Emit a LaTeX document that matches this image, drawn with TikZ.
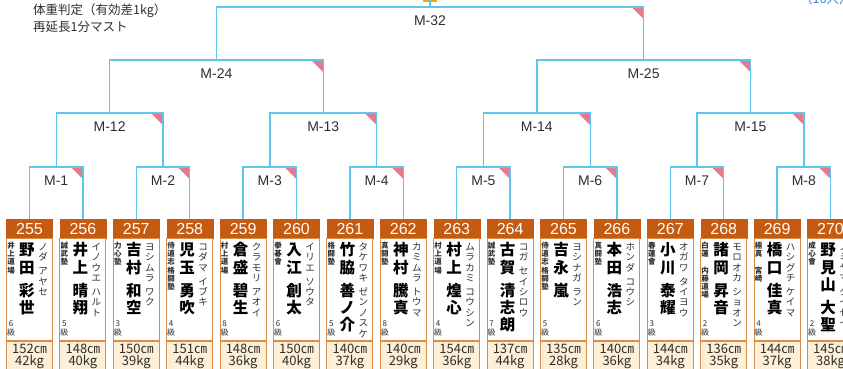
\documentclass[tikz,border=0pt]{standalone}
\usepackage{fontspec}
\setmainfont{Liberation Sans}
\newfontfamily\jp{Noto Sans CJK JP}
\usetikzlibrary{positioning}

\definecolor{bracketblue}{HTML}{5EC5EC}
\definecolor{cornerpink}{HTML}{E8788C}
\definecolor{hdrorange}{HTML}{C55A11}
\definecolor{cardedge}{HTML}{DA8C4C}
\definecolor{footcream}{HTML}{FDF0D6}
\definecolor{inkgray}{HTML}{2E2E2E}
\definecolor{noteblue}{HTML}{3D7DCA}
\definecolor{cupgold}{HTML}{F0A818}

% vertical text, one character per line
\makeatletter
\def\tate@go#1{\ifx#1\relax\else\hbox to 1em{\hss#1\hss\vrule height .94em depth .16em width 0pt}\expandafter\tate@go\fi}
\newcommand\tate[1]{\edef\tate@l{#1}\vbox{\offinterlineskip\expandafter\tate@go\tate@l\relax}}
\makeatother

\begin{document}
\begin{tikzpicture}[x=1pt,y=1pt,
    bline/.style={draw=bracketblue,line width=1.4pt},
    corner/.style={fill=cornerpink},
    mlabel/.style={font=\fontsize{14}{14}\selectfont,text=inkgray},
    note/.style={anchor=west,inner sep=0pt,font=\jp\fontsize{12.5}{12.5}\selectfont,text=inkgray},
    hdr/.style={fill=hdrorange,draw=hdrorange,text=white,minimum width=46pt,minimum height=19pt,inner sep=0pt,font=\fontsize{16}{16}\selectfont},
    body/.style={draw=cardedge,fill=white,line width=1pt,minimum width=46pt,minimum height=102pt,inner sep=0pt},
    foot/.style={draw=cardedge,fill=footcream,line width=1pt,minimum width=46pt,minimum height=30pt,inner sep=0pt,align=center,font=\jp\fontsize{13}{12}\selectfont,text=inkgray},
    sei/.style={inner sep=0pt,font=\jp\bfseries\fontsize{15.5}{15.5}\selectfont,text=black},
    yomi/.style={inner sep=0pt,font=\jp\fontsize{9.5}{9.5}\selectfont,text=inkgray},
    dojo/.style={anchor=north,inner sep=0pt,font=\jp\bfseries\fontsize{7.5}{7.5}\selectfont,text=inkgray},
    kyu/.style={anchor=south,inner sep=0pt,font=\jp\fontsize{8}{8}\selectfont,text=inkgray}]
\useasboundingbox (0,0) rectangle (843,-368);

% notes at the top
\node[note] (note1) at (33,-11) {体重判定（有効差1kg）};
\node[note] (note2) at (33,-27) {再延長1分マスト};
\node[note,text=noteblue] (count) at (800,1) {（16人）};
\fill[cupgold] (423,-2) rectangle (437,3);

% players
\foreach \n/\dojo/\sei/\mei/\ys/\ym/\kyu/\cm/\kg [count=\i from 0] in {
    255/井上道場/野田/彩世/ノダ/アヤセ/6/152/42,
    256/誠武塾/井上/晴翔/イノウエ/ハルト/5/148/40,
    257/力心塾/吉村/和空/ヨシムラ/ワク/3/150/39,
    258/侍道志格闘塾/児玉/勇吹/コダマ/イブキ/4/151/44,
    259/村上道場/倉盛/碧生/クラモリ/アオイ/8/148/36,
    260/拳碁會/入江/創太/イリエ/ソウタ/6/150/40,
    261/格闘塾/竹脇/善ノ介/タケワキ/ゼンノスケ/5/140/37,
    262/真闘塾/神村/騰真/カミムラ/トウマ/8/140/29,
    263/村上道場/村上/煌心/ムラカミ/コウシン/4/154/36,
    264/誠武塾/古賀/清志朗/コガ/セイシロウ/7/137/44,
    265/侍道志格闘塾/吉永/嵐/ヨシナガ/ラン/5/135/28,
    266/真闘塾/本田/浩志/ホンダ/コウシ/6/140/36,
    267/春蓮會/小川/泰耀/オガワ/タイヨウ/3/144/34,
    268/白蓮　内藤道場/諸岡/昇音/モロオカ/ショオン/2/136/35,
    269/極真　宮崎/橋口/佳真/ハシグチ/ケイマ/4/144/37,
    270/成心會/野見山/大聖/ノミヤマ/タイセイ/2/145/38}
{
    \node[hdr] (h\n) at ({29.5+53.4*\i},-228.5) {\n};
    \coordinate (c\n) at (h\n.north);
    \node[body,below=0pt of h\n] (b\n) {};
    \node[foot,below=0pt of b\n] (f\n) {\cm ㎝\\\kg kg};
    \node[dojo] (d\n) at ([xshift=5pt,yshift=-3pt]b\n.north west) {\tate{\dojo}};
    \node[sei,anchor=north] (s\n) at ([xshift=-2.5pt,yshift=-3pt]b\n.north) {\tate{\sei}};
    \node[sei,below=6pt of s\n] (g\n) {\tate{\mei}};
    \node[yomi,anchor=north] (y\n) at ([xshift=13.5pt,yshift=-3pt]b\n.north) {\tate{\ys}};
    \node[yomi,below=3pt of y\n] (z\n) {\tate{\ym}};
    \node[kyu] (k\n) at ([xshift=5pt,yshift=4pt]b\n.south west) {\tate{\kyu 級}};
}

% matches, from the first round up
\foreach \m/\a/\b/\x/\y in {
    1/c255/c256/56.2/167, 2/c257/c258/163.0/167, 3/c259/c260/269.8/167, 4/c261/c262/376.6/167,
    5/c263/c264/483.4/167, 6/c265/c266/590.2/167, 7/c267/c268/697.0/167, 8/c269/c270/803.8/167,
    12/m1/m2/109.6/113, 13/m3/m4/323.2/113, 14/m5/m6/536.8/113, 15/m7/m8/750.4/113,
    24/m12/m13/216.4/60, 25/m14/m15/643.6/60,
    32/m24/m25/430.0/7}
{
    \coordinate (m\m) at (\x,-\y);
    \fill[corner] (\b |- m\m) -- ++(-12,0) -- ++(12,-12) -- cycle;
    \draw[bline] (\a) |- (m\m) -| (\b);
    \node[mlabel] (l\m) at ([yshift=-14pt]m\m) {M-\m};
}
\draw[bline] (m32) -- ++(0,8);
\end{tikzpicture}
\end{document}
